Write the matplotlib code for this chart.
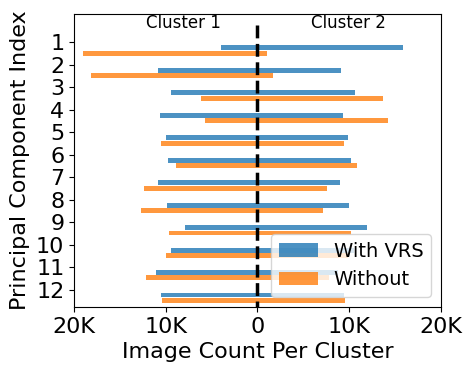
import matplotlib
matplotlib.use("Agg")
import matplotlib.pyplot as plt
import numpy as np

components = list(range(1, 13))
# cluster 1 (negative side) and cluster 2 (positive side) counts
vrs_c1 = [3950, 10800, 9400, 10600, 10000, 9800, 10900, 9900, 7900, 9400, 11100, 10500]
vrs_c2 = [15900, 9100, 10600, 9300, 9900, 10200, 9000, 10000, 12000, 10500, 8800, 9400]
wo_c1 = [19000, 18200, 6200, 5700, 10500, 8900, 12400, 12750, 9700, 10000, 12200, 10400]
wo_c2 = [1050, 1700, 13700, 14200, 9400, 10900, 7600, 7100, 10200, 9900, 7800, 9600]
xtick_vals = [-20000, -10000, 0, 10000, 20000]
xtick_labels = ["20K", "10K", "0", "10K", "20K"]

fig = plt.figure(figsize=(4.72, 3.72), dpi=100)
ax = fig.add_axes([0.157, 0.175, 0.777, 0.787])

y = np.array(components, dtype=float)
h = 0.22
blue = "tab:blue"
orange = "tab:orange"
ax.barh(y + 0.24, -np.array(vrs_c1), height=h, color=blue, alpha=0.8, label="With VRS")
ax.barh(y + 0.24, vrs_c2, height=h, color=blue, alpha=0.8)
ax.barh(y + 0.48, -np.array(wo_c1), height=h, color=orange, alpha=0.8, label="Without")
ax.barh(y + 0.48, wo_c2, height=h, color=orange, alpha=0.8)

ax.vlines(0, 0.23, 12.77, colors="black", linestyles="--", linewidth=2.5)

ax.set_ylim(12.77, -0.26)
ax.set_xlim(-20000, 20000)
ax.set_yticks(components)
ax.set_yticklabels([str(c) for c in components], fontsize=16)
ax.set_xticks(xtick_vals)
ax.set_xticklabels(xtick_labels, fontsize=16)
ax.set_xlabel("Image Count Per Cluster", fontsize=16)
ax.set_ylabel("Principal Component Index", fontsize=16)

ax.text(-8100, 0.14, "Cluster 1", ha="center", va="center", fontsize=12)
ax.text(9900, 0.14, "Cluster 2", ha="center", va="center", fontsize=12)

ax.legend(loc="lower right", fontsize=14)

fig.savefig("out.png", dpi=100)
